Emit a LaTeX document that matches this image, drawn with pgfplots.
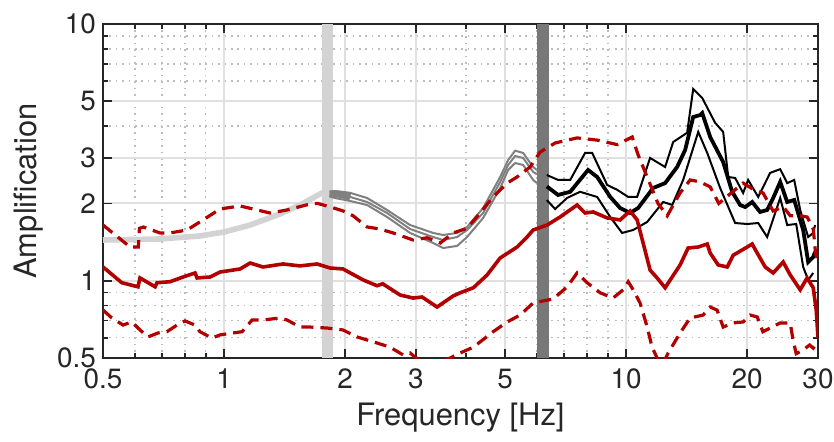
\documentclass[border=0pt]{standalone}
\usepackage{pgfplots}
\pgfplotsset{compat=1.18}
\usepackage{fontspec}
\setmainfont{TeX Gyre Heros}
\definecolor{axcol}{HTML}{262626}
\definecolor{gridmaj}{HTML}{E0E0E0}
\definecolor{gridmin}{HTML}{BDBDBD}
\definecolor{dred}{RGB}{178,0,0}
\definecolor{lgray}{RGB}{211,211,211}
\definecolor{mgray}{RGB}{128,128,128}
\definecolor{dband}{RGB}{120,120,120}

\begin{document}
\begin{tikzpicture}
\begin{axis}[
    at={(0,0)}, anchor=south west,
    scale only axis,
    width=357.5bp, height=167bp,
    xmode=log, ymode=log,
    xmin=0.5, xmax=30, ymin=0.5, ymax=10,
    xtick={0.5,1,2,3,5,10,20,30},
    xticklabels={0.5,1,2,3,5,10,20,30},
    minor xtick={0.6,0.7,0.8,0.9,4,6,7,8,9},
    ytick={0.5,1,2,3,5,10},
    yticklabels={0.5,1,2,3,5,10},
    minor ytick={0.6,0.7,0.8,0.9,4,6,7,8,9},
    grid=both,
    major grid style={color=gridmaj, line width=1bp},
    minor grid style={color=gridmin, line width=0.8bp, dash pattern=on 0.8bp off 2.4bp},
    tick align=inside,
    major tick length=4.5bp, minor tick length=2.5bp,
    tick style={color=axcol, line width=0.9bp},
    axis line style={color=axcol, line width=0.9bp},
    ticklabel style={font=\fontsize{14}{14}\selectfont, text=axcol},
    xticklabel style={yshift=-2bp},
    label style={font=\fontsize{15.5}{15.5}\selectfont, text=axcol},
    xlabel={Frequency [Hz]},
    ylabel={Amplification},
    clip=true,
]
% frequency bands
\addplot[lgray, line width=5.5bp, forget plot] coordinates {(1.809,0.5) (1.809,10)};
\addplot[dband, line width=6bp, forget plot] coordinates {(6.20,0.5) (6.20,10)};

% low-frequency model
\addplot[lgray, line width=2.8bp] coordinates {
(0.5,1.441) (0.693,1.454) (0.871,1.494) (1.0,1.548) (1.161,1.648) (1.378,1.82)
(1.545,1.973) (1.753,2.197) (1.80,2.22)};

% mid band
\addplot[mgray, line width=3.5bp] coordinates {(1.83,2.18) (1.95,2.17) (2.06,2.12)};
\addplot[mgray, line width=1bp] coordinates {
(1.83,2.22) (1.888,2.237) (2.058,2.20) (2.268,2.10) (2.544,1.886) (2.902,1.648)
(3.311,1.535) (3.506,1.507) (3.798,1.535) (4.022,1.619) (4.409,1.92) (4.861,2.536)
(5.088,2.953) (5.296,3.211) (5.544,3.145) (5.871,2.773) (6.0,2.70)};
\addplot[mgray, line width=1bp] coordinates {
(1.83,2.17) (1.888,2.158) (2.058,2.12) (2.268,2.026) (2.544,1.836) (2.902,1.59)
(3.311,1.48) (3.506,1.441) (3.798,1.48) (4.022,1.576) (4.409,1.836) (4.861,2.425)
(5.088,2.824) (5.296,3.061) (5.544,3.007) (5.871,2.652) (6.0,2.60)};
\addplot[mgray, line width=1bp] coordinates {
(1.83,2.13) (1.888,2.10) (2.058,2.045) (2.268,1.972) (2.544,1.771) (2.902,1.535)
(3.311,1.403) (3.506,1.341) (3.798,1.366) (4.022,1.48) (4.409,1.756) (4.861,2.297)
(5.088,2.701) (5.296,2.874) (5.544,2.824) (5.871,2.469) (6.0,2.40)};

% high band
\addplot[black, line width=1bp] coordinates {
(6.35,2.58) (6.77,2.47) (7.26,2.47) (7.91,3.15) (8.23,3.15) (8.97,2.36) (9.50,2.26)
(10.12,2.12) (10.65,2.12) (11.47,3.007) (12.50,2.773) (13.09,3.47) (14.18,3.77)
(14.68,5.58) (15.46,5.15) (16.65,4.12) (17.43,3.80) (17.94,2.536) (18.67,2.513)
(19.54,2.197) (20.11,2.469) (21.30,2.12) (22.81,2.63) (24.16,2.72) (25.15,2.40)
(26.18,2.469) (27.09,1.886) (28.36,1.480) (29.19,1.535) (29.5,1.648)};
\addplot[black, line width=1.9bp] coordinates {
(6.35,2.33) (6.77,2.158) (7.26,2.22) (8.04,2.70) (8.47,2.536) (9.13,2.12) (9.66,1.92)
(10.23,1.836) (10.71,1.92) (11.67,2.297) (12.50,2.40) (13.39,2.773) (14.02,3.23)
(14.68,4.34) (15.28,4.42) (15.46,4.50) (16.18,3.63) (17.43,2.90) (18.35,2.22)
(19.21,1.972) (19.77,1.937) (20.58,2.026) (21.53,1.853) (22.42,1.886) (23.21,2.101)
(24.16,2.425) (25.15,2.026) (26.18,2.063) (27.56,1.576) (28.36,1.183) (29.19,1.237)
(29.5,1.294)};
\addplot[black, line width=1bp] coordinates {
(6.35,2.06) (6.66,1.903) (7.13,2.101) (7.68,2.22) (8.47,2.12) (9.13,1.771) (9.77,1.535)
(10.41,1.576) (11.28,1.694) (12.36,2.026) (13.02,1.972) (13.86,2.469) (15.11,3.80)
(15.91,3.145) (17.13,2.297) (18.67,1.678) (20.0,1.663) (21.30,1.678) (22.42,1.480)
(24.16,2.101) (25.15,1.648) (26.48,1.663) (27.56,1.131) (28.36,1.007) (29.19,1.072)};

% observed amplification
\addplot[dred, line width=1.6bp, dash pattern=on 6bp off 3.5bp] coordinates {
(0.5,1.648) (0.584,1.353) (0.612,1.353) (0.616,1.60) (0.63,1.619) (0.693,1.535)
(0.734,1.535) (0.809,1.576) (0.887,1.725) (0.977,1.903) (1.096,1.955) (1.181,1.903)
(1.301,1.836) (1.435,1.886) (1.636,1.99) (1.71,2.0) (1.835,1.94) (1.977,1.87)
(2.094,1.79) (2.268,1.62) (2.44,1.59) (2.633,1.535) (2.952,1.441) (3.20,1.47)
(3.45,1.403) (3.712,1.535) (4.022,1.60) (4.33,1.836) (4.67,2.12) (5.06,2.40)
(5.356,2.536) (5.77,2.773) (6.11,3.17) (6.66,3.44) (7.55,3.60) (8.47,3.53)
(9.50,3.39) (10.35,3.63) (10.71,3.09) (11.28,2.536) (12.0,2.0) (12.65,1.79)
(13.62,2.197) (14.43,2.469) (15.28,2.425) (16.18,2.32) (17.0,2.0) (18.15,2.18)
(19.54,2.40) (20.8,2.26) (21.9,2.197) (23.2,1.87) (24.6,1.94) (25.6,1.79)
(27.1,1.79) (28.2,1.771) (29.2,1.59) (29.6,1.27) (30,1.2)};
\addplot[dred, line width=1.6bp, dash pattern=on 6bp off 3.5bp] coordinates {
(0.5,0.769) (0.526,0.716) (0.561,0.672) (0.59,0.691) (0.618,0.643) (0.647,0.604)
(0.685,0.626) (0.721,0.633) (0.764,0.672) (0.80,0.697) (0.847,0.672) (0.871,0.633)
(0.933,0.598) (0.977,0.615) (1.053,0.626) (1.109,0.633) (1.174,0.703) (1.25,0.703)
(1.378,0.716) (1.435,0.703) (1.545,0.660) (1.636,0.660) (1.809,0.654) (1.977,0.643)
(2.142,0.604) (2.402,0.572) (2.588,0.551) (2.788,0.514) (2.902,0.523) (2.986,0.504)
(3.2,0.47) (3.45,0.48) (3.649,0.50) (3.864,0.523) (4.17,0.551) (4.67,0.633)
(5.06,0.691) (5.45,0.735) (5.87,0.819) (6.58,0.849) (7.13,0.945) (7.55,1.072)
(8.0,0.982) (8.62,0.897) (9.28,0.856) (9.83,0.922) (10.12,0.991) (10.41,0.922)
(10.83,0.819) (11.28,0.66) (11.6,0.551) (11.94,0.50) (12.3,0.47) (12.72,0.523)
(13.62,0.626) (14.43,0.716) (15.54,0.735) (16.18,0.79) (16.84,0.768) (17.43,0.66)
(18.46,0.685) (19.54,0.691) (20.34,0.735) (21.18,0.723) (21.88,0.633) (22.81,0.654)
(24.16,0.685) (25.59,0.685) (26.0,0.588) (26.48,0.52) (27.56,0.537) (28.6,0.562)
(29.19,0.546) (29.9,0.572)};
\addplot[dred, line width=1.8bp] coordinates {
(0.5,1.131) (0.557,0.982) (0.611,0.947) (0.618,1.025) (0.674,0.947) (0.681,0.982)
(0.734,0.991) (0.791,1.034) (0.847,1.072) (0.857,1.025) (0.923,1.034) (0.977,1.081)
(1.096,1.111) (1.161,1.172) (1.25,1.131) (1.402,1.162) (1.545,1.142) (1.703,1.162)
(1.835,1.121) (1.977,1.111) (2.218,1.007) (2.402,0.956) (2.48,0.973) (2.74,0.88)
(2.952,0.856) (3.108,0.864) (3.387,0.79) (3.712,0.872) (3.864,0.897) (4.17,0.939)
(4.51,1.053) (4.86,1.226) (5.356,1.353) (5.67,1.48) (5.87,1.576) (6.36,1.648)
(6.85,1.771) (7.55,1.972) (7.91,1.836) (8.28,1.853) (8.97,1.756) (9.66,1.725)
(10.23,1.87) (10.65,1.725) (11.47,1.10) (11.94,1.025) (12.5,0.939) (13.62,1.152)
(14.26,1.341) (15.11,1.353) (15.91,1.39) (16.18,1.282) (16.94,1.152) (17.84,1.131)
(18.46,1.257) (20.0,1.353) (20.58,1.39) (21.18,1.282) (22.17,1.131) (23.21,1.072)
(24.58,1.183) (25.59,1.053) (27.09,0.922) (28.19,1.025) (29.19,0.939) (29.7,0.768)
(30,0.6)};
\end{axis}
\pgfresetboundingbox
\path[use as bounding box] (-51.5bp,-42bp) rectangle (365.5bp,179bp);
\end{tikzpicture}
\end{document}
